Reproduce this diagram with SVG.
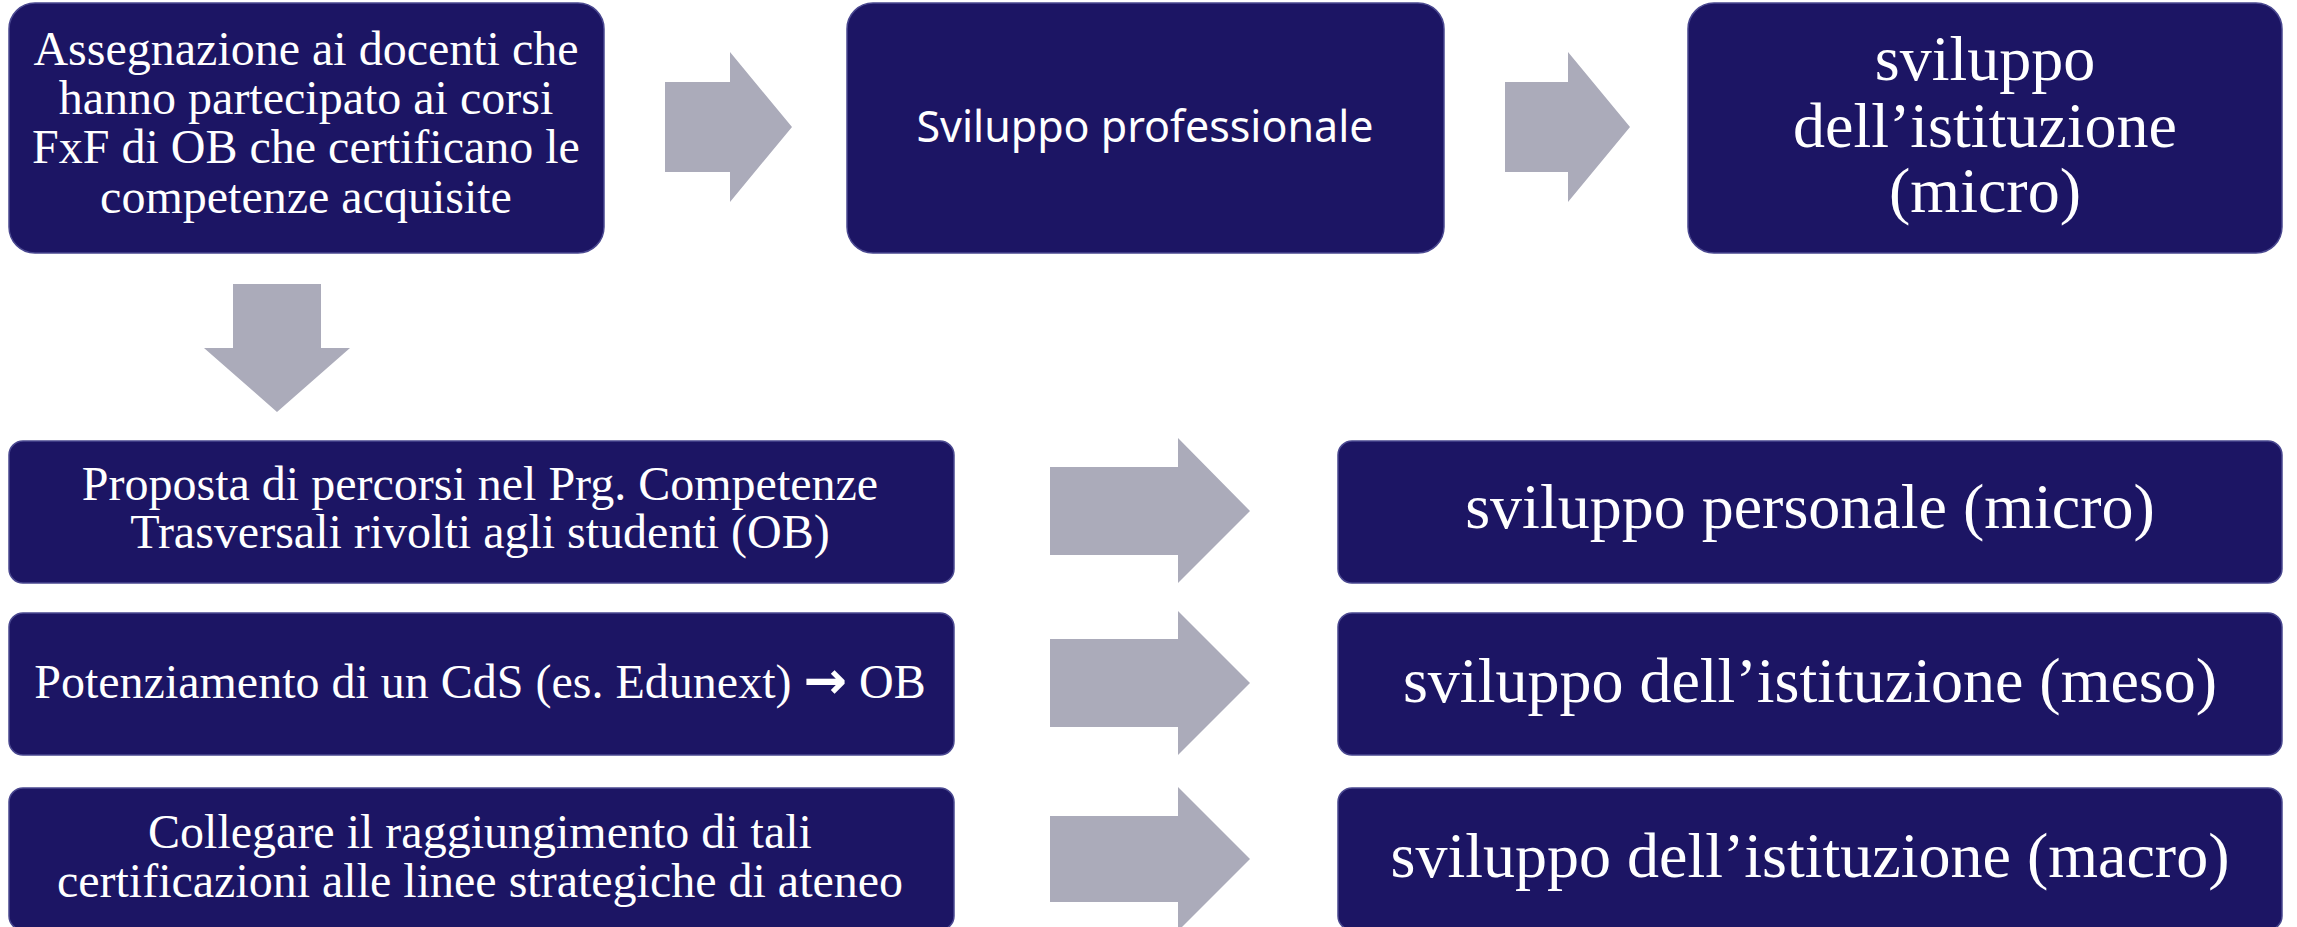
<svg xmlns="http://www.w3.org/2000/svg" width="2297" height="927" viewBox="0 0 2297 927">
<style>
.box{fill:#1c1564;stroke:#4a4890;stroke-width:1.5}
.arr{fill:#ababba}
.t{fill:#ffffff;font-family:"Liberation Serif","Times New Roman",serif;text-anchor:middle}
.s{fill:#ffffff;font-family:"Noto Sans","Open Sans",sans-serif;text-anchor:middle}
.ar{font-family:"DejaVu Sans",sans-serif;font-weight:bold}
</style>
<rect width="2297" height="927" fill="#ffffff"/>
<g id="connectors">
<polygon class="arr" points="665,82 730,82 730,52 792,127 730,202 730,172 665,172"/>
<polygon class="arr" points="1505,82 1568,82 1568,52 1630,127 1568,202 1568,172 1505,172"/>
<polygon class="arr" points="233,284 321,284 321,348 350,348 277,412 204,348 233,348"/>
<polygon class="arr" points="1050,467 1178,467 1178,438 1250,511 1178,583 1178,555 1050,555"/>
<polygon class="arr" points="1050,639 1178,639 1178,611 1250,683 1178,755 1178,727 1050,727"/>
<polygon class="arr" points="1050,816 1178,816 1178,787 1250,859 1178,931 1178,902 1050,902"/>
</g>
<g id="n1">
<rect class="box" x="9" y="3" width="595" height="250" rx="26" ry="26"/>
<text class="t" font-size="48" x="306" y="65">Assegnazione ai docenti che</text>
<text class="t" font-size="48" x="306" y="114">hanno partecipato ai corsi</text>
<text class="t" font-size="48" x="306" y="163">FxF di OB che certificano le</text>
<text class="t" font-size="48" x="306" y="213">competenze acquisite</text>
</g>
<g id="n2">
<rect class="box" x="847" y="3" width="597" height="250" rx="26" ry="26"/>
<text class="s" font-size="44" x="1145" y="142" textLength="457" lengthAdjust="spacingAndGlyphs">Sviluppo professionale</text>
</g>
<g id="n3">
<rect class="box" x="1688" y="3" width="594" height="250" rx="26" ry="26"/>
<text class="t" font-size="64" x="1985" y="80">sviluppo</text>
<text class="t" font-size="64" x="1985" y="147">dell’istituzione</text>
<text class="t" font-size="64" x="1985" y="212">(micro)</text>
</g>
<g id="n4">
<rect class="box" x="9" y="441" width="945" height="142" rx="14" ry="14"/>
<text class="t" font-size="48" x="480" y="500">Proposta di percorsi nel Prg. Competenze</text>
<text class="t" font-size="48" x="480" y="548">Trasversali rivolti agli studenti (OB)</text>
</g>
<g id="n5">
<rect class="box" x="9" y="613" width="945" height="142" rx="14" ry="14"/>
<text class="t" font-size="48" x="480" y="698">Potenziamento di un CdS (es. Edunext) <tspan class="ar" font-size="52">→</tspan> OB</text>
</g>
<g id="n6">
<rect class="box" x="9" y="788" width="945" height="142" rx="14" ry="14"/>
<text class="t" font-size="48" x="480" y="848">Collegare il raggiungimento di tali</text>
<text class="t" font-size="48" x="480" y="897">certificazioni alle linee strategiche di ateneo</text>
</g>
<g id="n7">
<rect class="box" x="1338" y="441" width="944" height="142" rx="14" ry="14"/>
<text class="t" font-size="64" x="1810" y="528">sviluppo personale (micro)</text>
</g>
<g id="n8">
<rect class="box" x="1338" y="613" width="944" height="142" rx="14" ry="14"/>
<text class="t" font-size="64" x="1810" y="702">sviluppo dell’istituzione (meso)</text>
</g>
<g id="n9">
<rect class="box" x="1338" y="788" width="944" height="142" rx="14" ry="14"/>
<text class="t" font-size="64" x="1810" y="877">sviluppo dell’istituzione (macro)</text>
</g>
</svg>
